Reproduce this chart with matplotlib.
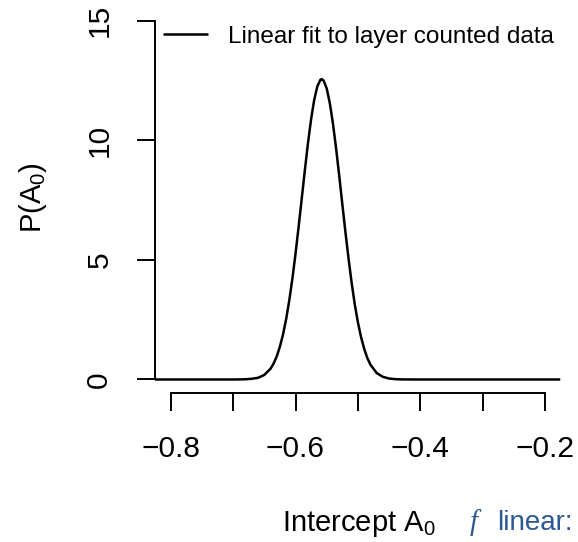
import matplotlib
matplotlib.use("Agg")
import matplotlib.pyplot as plt

plt.rcParams["font.family"] = ["Liberation Sans", "DejaVu Sans"]
plt.rcParams["mathtext.fontset"] = "custom"
plt.rcParams["mathtext.rm"] = "Liberation Sans"
plt.rcParams["mathtext.it"] = "Liberation Sans:italic"

# posterior density of the intercept
intercept = [-0.825, -0.72, -0.70, -0.69, -0.68, -0.67, -0.66, -0.65, -0.64,
             -0.635, -0.63, -0.625, -0.62, -0.615, -0.61, -0.605,
             -0.60, -0.595, -0.59, -0.585, -0.58, -0.575, -0.57, -0.565,
             -0.56, -0.558, -0.555, -0.55, -0.545, -0.54, -0.535, -0.53,
             -0.525, -0.52, -0.515, -0.51, -0.505, -0.50, -0.495, -0.49,
             -0.485, -0.48, -0.47, -0.46, -0.45, -0.44, -0.43, -0.41, -0.176]
density = [0.0, 0.0, 0.0, 0.003, 0.01, 0.03, 0.07, 0.19, 0.45,
           0.67, 0.97, 1.37, 1.88, 2.52, 3.30, 4.21,
           5.25, 6.38, 7.56, 8.75, 9.88, 10.88, 11.69, 12.25,
           12.53, 12.55, 12.49, 12.16, 11.54, 10.69, 9.66, 8.52,
           7.32, 6.15, 5.04, 4.02, 3.13, 2.38, 1.77, 1.28,
           0.90, 0.62, 0.27, 0.11, 0.04, 0.013, 0.004, 0.0, 0.0]

xticks = [-0.8, -0.7, -0.6, -0.5, -0.4, -0.3, -0.2]
xticklabels = ["\u22120.8", "", "\u22120.6", "", "\u22120.4", "", "\u22120.2"]
yticks = [0, 5, 10, 15]
legend_label = "Linear fit to layer counted data"

W, H = 578, 542
fig = plt.figure(figsize=(W / 100, H / 100), dpi=100)
ax = fig.add_axes([155 / W, (H - 393.3) / H, (W - 155) / W, 393.3 / H])

ax.plot(intercept, density, color="black", lw=1.8, label=legend_label,
        solid_capstyle="butt")

ax.set_xlim(-0.825, -0.1476)
ax.set_ylim(-0.577, 15.857)

for s in ["top", "right"]:
    ax.spines[s].set_visible(False)
ax.spines["left"].set_bounds(0, 15)
ax.spines["bottom"].set_bounds(-0.8, -0.2)
ax.spines["left"].set_linewidth(1.4)
ax.spines["bottom"].set_linewidth(1.4)

ax.set_xticks(xticks)
ax.set_xticklabels(xticklabels)
ax.set_yticks(yticks)
ax.set_yticklabels([str(t) for t in yticks], rotation=90, va="center")
ax.tick_params(axis="both", length=13, width=1.4, labelsize=21.5, pad=17)

ax.legend(loc="upper left", bbox_to_anchor=(0.019, 0.934), frameon=False,
          fontsize=17.5, handlelength=1.85, handletextpad=0.82,
          borderpad=0.0, borderaxespad=0.0)

fig.text(33 / W, 1 - 198 / H, "P(A$_0$)", rotation=90, fontsize=21,
         ha="center", va="center")
fig.text(282 / W, 1 - 531 / H, "Intercept A$_0$", fontsize=21,
         ha="left", va="baseline")
fig.text(470 / W, 1 - 530 / H, "f", fontsize=21, family="Liberation Serif",
         style="italic", color="#2c5894", ha="left", va="baseline")
fig.text(497 / W, 1 - 530 / H, "linear:", fontsize=20, color="#2c5894",
         ha="left", va="baseline")

fig.savefig("out.png", dpi=100)
